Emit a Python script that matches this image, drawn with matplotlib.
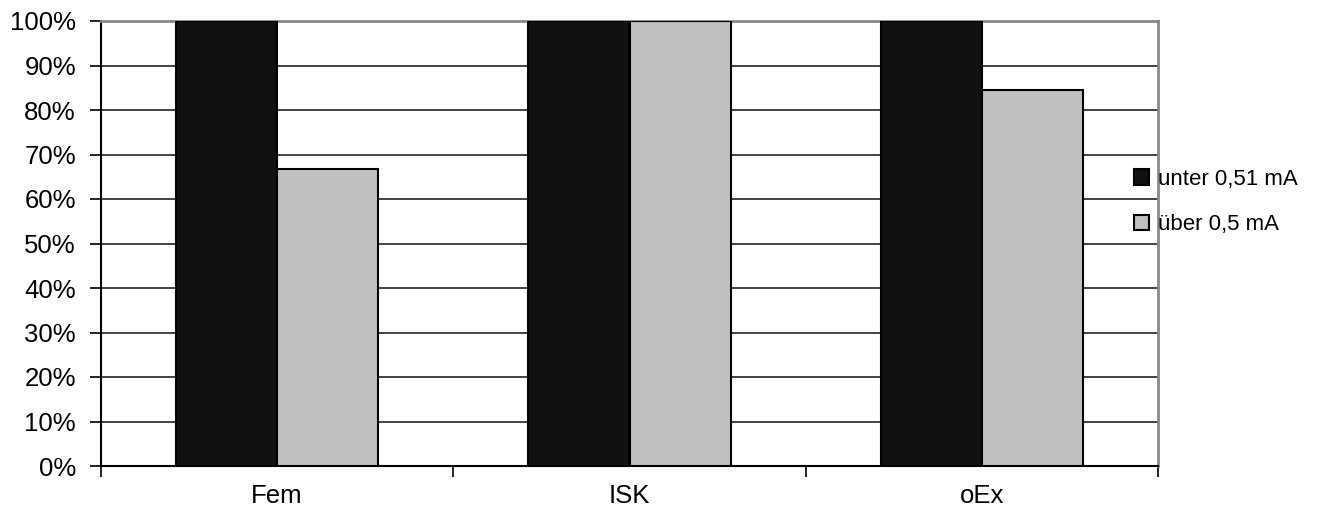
import matplotlib.pyplot as plt
import numpy as np
from matplotlib.ticker import FixedLocator, PercentFormatter

plt.rcParams['font.family'] = ['Liberation Sans', 'DejaVu Sans']

categories = ['Fem', 'ISK', 'oEx']
unter = [100, 100, 100]
ueber = [66.7, 100, 84.4]
series_names = ['unter 0,51 mA', 'über 0,5 mA']

fig = plt.figure(figsize=(13.37, 5.08), dpi=100)
ax = fig.add_axes([101 / 1337, 1 - 466 / 508, 1057 / 1337, 445 / 508])

x = np.arange(len(categories))
w = 0.287
b1 = ax.bar(x - w / 2, unter, w, color='#111111', edgecolor='black', linewidth=1.5, zorder=3,
            label=series_names[0])
b2 = ax.bar(x + w / 2, ueber, w, color='#c0c0c0', edgecolor='black', linewidth=1.5, zorder=3,
            label=series_names[1])

ax.set_xlim(-0.5, 2.5)
ax.set_ylim(0, 100)
ax.set_yticks(np.arange(0, 101, 10))
ax.yaxis.set_major_formatter(PercentFormatter(decimals=0))
ax.yaxis.grid(True, color='#222222', linewidth=1.2, zorder=1)

ax.set_xticks(x)
ax.set_xticklabels(categories)
ax.xaxis.set_minor_locator(FixedLocator([-0.5, 0.5, 1.5, 2.5]))
ax.tick_params(axis='x', which='major', length=0, pad=13, labelsize=18.5)
ax.tick_params(axis='x', which='minor', length=8, width=1.2, direction='out')
ax.tick_params(axis='y', length=8, width=1.2, direction='out', pad=10, labelsize=18.5)

for side in ['left', 'bottom']:
    ax.spines[side].set_linewidth(1.5)
    ax.spines[side].set_color('black')
for side in ['top', 'right']:
    ax.spines[side].set_linewidth(2)
    ax.spines[side].set_color('#888888')

fig.legend(handles=[b1, b2], loc='center left', bbox_to_anchor=(1134 / 1337, 1 - 202 / 508),
           frameon=False, fontsize=16, handlelength=0.68, handleheight=0.68,
           handletextpad=0.4, labelspacing=1.1, borderaxespad=0, borderpad=0)

plt.savefig('out.png', dpi=100)
